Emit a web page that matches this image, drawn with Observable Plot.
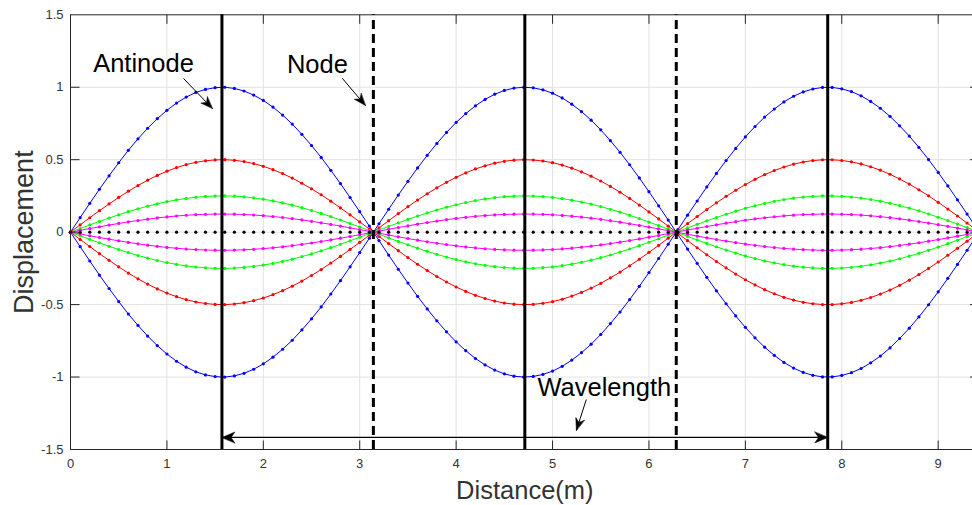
<!DOCTYPE html>
<html><head><meta charset="utf-8">
<script src="https://cdn.jsdelivr.net/npm/d3@7"></script>
<script src="https://cdn.jsdelivr.net/npm/@observablehq/plot@0.6"></script>
<style>
html,body{margin:0;padding:0;background:#fff;}
#chart{width:972px;height:505px;overflow:hidden;}
</style></head><body><div id="chart"></div>
<script>
// ---- data ----
const distance = [0,0.1,0.2,0.3,0.4,0.5,0.6,0.7,0.8,0.9,1,1.1,1.2,1.3,1.4,1.5,1.6,1.7,1.8,1.9,2,2.1,2.2,2.3,2.4,2.5,2.6,2.7,2.8,2.9,3,3.1,3.2,3.3,3.4,3.5,3.6,3.7,3.8,3.9,4,4.1,4.2,4.3,4.4,4.5,4.6,4.7,4.8,4.9,5,5.1,5.2,5.3,5.4,5.5,5.6,5.7,5.8,5.9,6,6.1,6.2,6.3,6.4,6.5,6.6,6.7,6.8,6.9,7,7.1,7.2,7.3,7.4,7.5,7.6,7.7,7.8,7.9,8,8.1,8.2,8.3,8.4,8.5,8.6,8.7,8.8,8.9,9,9.1,9.2,9.3,9.4];
const wave = [
  0,0.100,0.199,0.296,0.389,0.479,0.565,0.644,0.717,0.783,
  0.841,0.891,0.932,0.964,0.985,0.997,1.000,0.992,0.974,0.946,
  0.909,0.863,0.808,0.746,0.675,0.598,0.516,0.427,0.335,0.239,
  0.141,0.042,-0.058,-0.158,-0.256,-0.351,-0.443,-0.530,-0.612,-0.688,
  -0.757,-0.818,-0.872,-0.916,-0.952,-0.978,-0.994,-1.000,-0.996,-0.982,
  -0.959,-0.926,-0.883,-0.832,-0.773,-0.706,-0.631,-0.551,-0.465,-0.374,
  -0.279,-0.182,-0.083,0.017,0.117,0.215,0.312,0.405,0.494,0.578,
  0.657,0.729,0.794,0.850,0.899,0.938,0.968,0.988,0.999,0.999,
  0.989,0.970,0.941,0.902,0.855,0.799,0.734,0.663,0.585,0.501,
  0.412,0.319,0.223,0.125,0.025
];
const amplitudes = [1, 0.5, 0.25, 0.125];
const seriesColors = ["#0000ff", "#ff0000", "#00ff00", "#ff00ff"];
const restAmplitude = 0;
const xTicks = [0, 1, 2, 3, 4, 5, 6, 7, 8, 9];
const yTicks = [-1.5, -1, -0.5, 0, 0.5, 1, 1.5];
const antinodeLines = [1.5708, 4.7124, 7.8540];
const nodeLines = [3.1416, 6.2832];
const xMax = 9.4248;
const yMin = -1.5, yMax = 1.5;
const labels = [
  {x: 0.757, y: 1.164, text: "Antinode"},
  {x: 2.561, y: 1.157, text: "Node"},
  {x: 5.537, y: -1.072, text: "Wavelength"}
];
const pointers = [
  {x1: 1.172, y1: 1.061, x2: 1.472, y2: 0.853, angle: 136},
  {x1: 2.820, y1: 1.061, x2: 3.059, y2: 0.874, angle: 140},
  {x1: 5.350, y1: -1.155, x2: 5.247, y2: -1.368, angle: 198}
];
const span = {x1: 1.5708, x2: 7.8540, y: -1.417};

// ---- build tables ----
const curves = [];
amplitudes.forEach((a, k) => {
  [1, -1].forEach(s => {
    curves.push({color: seriesColors[k], rows: distance.map((x, i) => ({x, y: s * a * wave[i]}))});
  });
});
const rest = distance.map((x, i) => ({x, y: restAmplitude * wave[i]}));

const axisColor = "#333333";
const gridColor = "#e2e2e2";
const tickShape = {draw(ctx, l) { ctx.moveTo(0, 0); ctx.lineTo(0, -l); }};
const headShape = {draw(ctx, l, r) {
  ctx.moveTo(0, -l); ctx.lineTo(r, 0); ctx.lineTo(0, -l * 0.3); ctx.lineTo(-r, 0); ctx.closePath();
}};

const marks = [
  Plot.ruleX(xTicks.slice(1), {x: d => d, stroke: gridColor, strokeWidth: 1}),
  Plot.ruleY(yTicks.slice(1, -1), {y: d => d, stroke: gridColor, strokeWidth: 1}),
];
curves.forEach(c => {
  marks.push(Plot.line(c.rows, {x: "x", y: "y", stroke: c.color, strokeWidth: 1}));
  marks.push(Plot.dot(c.rows, {x: "x", y: "y", fill: c.color, r: 1.6, stroke: null}));
});
marks.push(Plot.dot(rest, {x: "x", y: "y", fill: "black", r: 1.6, stroke: null}));

// frame
marks.push(Plot.ruleY([yMin, yMax], {y: d => d, stroke: "#262626", strokeWidth: 1}));
marks.push(Plot.ruleX([0, xMax], {x: d => d, stroke: "#262626", strokeWidth: 1}));
// inward ticks
const tickOpts = {length: 9, anchor: "start", shape: tickShape, stroke: "#262626", strokeWidth: 1, fill: "none", strokeLinecap: "butt"};
marks.push(Plot.vector(xTicks.slice(1), {...tickOpts, x: d => d, y: yMin, rotate: 0}));
marks.push(Plot.vector(xTicks.slice(1), {...tickOpts, x: d => d, y: yMax, rotate: 180}));
marks.push(Plot.vector(yTicks.slice(1, -1), {...tickOpts, x: 0, y: d => d, rotate: 90}));
marks.push(Plot.vector(yTicks.slice(1, -1), {...tickOpts, x: xMax, y: d => d, rotate: 270}));

// tick labels
marks.push(Plot.axisX(xTicks, {anchor: "bottom", tickSize: 0, tickPadding: 9, fontSize: 13, fill: axisColor, label: null, tickFormat: d => String(d)}));
marks.push(Plot.axisY(yTicks, {anchor: "left", tickSize: 0, tickPadding: 7, fontSize: 13, fill: axisColor, label: null, tickFormat: d => String(d)}));

// vertical reference lines
marks.push(Plot.ruleX(antinodeLines, {x: d => d, y1: yMin, y2: yMax, stroke: "black", strokeWidth: 3}));
marks.push(Plot.ruleX(nodeLines, {x: d => d, y1: yMin, y2: yMax, stroke: "black", strokeWidth: 3, strokeDasharray: "9,5"}));

// wavelength span arrow
marks.push(Plot.link([span], {x1: "x1", x2: "x2", y1: "y", y2: "y", stroke: "black", strokeWidth: 1.2}));
marks.push(Plot.vector([{x: span.x1, y: span.y, a: 270}, {x: span.x2, y: span.y, a: 90}],
  {x: "x", y: "y", rotate: "a", length: 13, r: 5.5, anchor: "end", shape: headShape, fill: "black", stroke: "black", strokeWidth: 0.5}));

// annotation pointers
marks.push(Plot.link(pointers, {x1: "x1", y1: "y1", x2: "x2", y2: "y2", stroke: "black", strokeWidth: 1}));
marks.push(Plot.vector(pointers, {x: "x2", y: "y2", rotate: "angle", length: 12, r: 4.5, anchor: "end", shape: headShape, fill: "black", stroke: "black", strokeWidth: 0.5}));

// annotation texts
marks.push(Plot.text(labels, {x: "x", y: "y", text: "text", fontSize: 25.5, fill: "black", textAnchor: "middle", lineAnchor: "middle"}));

// axis titles
marks.push(Plot.text(["Distance(m)"], {x: xMax / 2, frameAnchor: "bottom", dy: 41, text: d => d, fontSize: 25.5, fill: axisColor, textAnchor: "middle", lineAnchor: "middle"}));
marks.push(Plot.text(["Displacement"], {frameAnchor: "left", dx: -46, text: d => d, rotate: -90, fontSize: 27, fill: axisColor, textAnchor: "middle", lineAnchor: "middle"}));

const chart = Plot.plot({
  width: 972, height: 505,
  marginLeft: 70, marginRight: 0, marginTop: 14.3, marginBottom: 56,
  x: {domain: [0, xMax], range: [70, 70 + xMax * 96.41]},
  y: {domain: [yMin, yMax]},
  style: {fontFamily: "'Liberation Sans', Arial, Helvetica, sans-serif", background: "white", color: axisColor, overflow: "hidden"},
  marks
});
document.getElementById("chart").appendChild(chart);
</script></body></html>
